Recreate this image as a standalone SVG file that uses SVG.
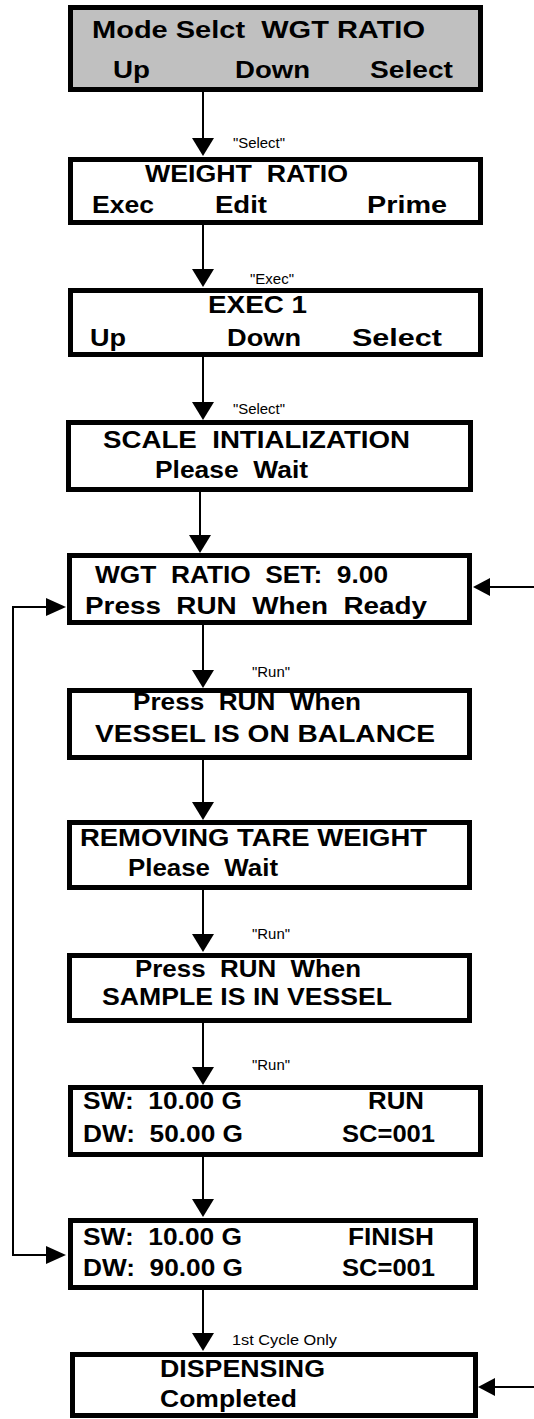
<svg xmlns="http://www.w3.org/2000/svg" width="534" height="1419" viewBox="0 0 534 1419">
<style>
.box{fill:#fff;stroke:#000;stroke-width:5}
.gray{fill:#c0c0c0}
.t{font-family:"Liberation Sans",Arial,sans-serif;font-weight:bold;font-size:24px;fill:#000}
.l{font-family:"Liberation Sans",Arial,sans-serif;font-size:14px;fill:#000}
.c{stroke:#000;stroke-width:2;fill:none}
.h{fill:#000}
</style>
<rect width="534" height="1419" fill="#fff"/>
<g id="connectors">
<line class="c" x1="203" y1="92" x2="203" y2="140"/><polygon class="h" points="192,138 214,138 203,156"/>
<line class="c" x1="203" y1="224" x2="203" y2="271"/><polygon class="h" points="192,269 214,269 203,287"/>
<line class="c" x1="203" y1="357" x2="203" y2="404"/><polygon class="h" points="192,402 214,402 203,420"/>
<line class="c" x1="200" y1="492" x2="200" y2="537"/><polygon class="h" points="189,535 211,535 200,553"/>
<line class="c" x1="203" y1="625" x2="203" y2="672"/><polygon class="h" points="192,670 214,670 203,688"/>
<line class="c" x1="203" y1="760" x2="203" y2="804"/><polygon class="h" points="192,802 214,802 203,820"/>
<line class="c" x1="203" y1="890" x2="203" y2="936"/><polygon class="h" points="192,934 214,934 203,952"/>
<line class="c" x1="203" y1="1023" x2="203" y2="1069"/><polygon class="h" points="192,1067 214,1067 203,1085"/>
<line class="c" x1="203" y1="1157" x2="203" y2="1201"/><polygon class="h" points="192,1199 214,1199 203,1217"/>
<line class="c" x1="203" y1="1290" x2="203" y2="1335"/><polygon class="h" points="192,1333 214,1333 203,1351"/>
<polyline class="c" points="47,607 13,607 13,1255 47,1255"/>
<polygon class="h" points="46,598 46,616 66,607"/>
<polygon class="h" points="46,1246 46,1264 66,1255"/>
<line class="c" x1="488" y1="587" x2="534" y2="587"/><polygon class="h" points="473,587 490,578 490,596"/>
<line class="c" x1="493" y1="1387" x2="534" y2="1387"/><polygon class="h" points="478,1387 495,1378 495,1396"/>
<text class="l" x="233" y="148" textLength="52" lengthAdjust="spacingAndGlyphs">"Select"</text>
<text class="l" x="250" y="284" textLength="44" lengthAdjust="spacingAndGlyphs">"Exec"</text>
<text class="l" x="233" y="414" textLength="52" lengthAdjust="spacingAndGlyphs">"Select"</text>
<text class="l" x="252" y="677" textLength="38" lengthAdjust="spacingAndGlyphs">"Run"</text>
<text class="l" x="252" y="939" textLength="38" lengthAdjust="spacingAndGlyphs">"Run"</text>
<text class="l" x="252" y="1070" textLength="38" lengthAdjust="spacingAndGlyphs">"Run"</text>
<text class="l" x="232" y="1345" textLength="105" lengthAdjust="spacingAndGlyphs">1st Cycle Only</text>
</g>
<g id="n1"><rect class="box gray" x="70.5" y="7.5" width="410" height="82"/>
<text class="t" x="92" y="38" textLength="333" lengthAdjust="spacingAndGlyphs" xml:space="preserve">Mode Selct  WGT RATIO</text>
<text class="t" x="113" y="78" textLength="37" lengthAdjust="spacingAndGlyphs">Up</text>
<text class="t" x="235" y="78" textLength="75" lengthAdjust="spacingAndGlyphs">Down</text>
<text class="t" x="370" y="78" textLength="83" lengthAdjust="spacingAndGlyphs">Select</text></g>
<g id="n2"><rect class="box" x="70.5" y="159.5" width="410" height="63"/>
<text class="t" x="145" y="182" textLength="203" lengthAdjust="spacingAndGlyphs" xml:space="preserve">WEIGHT  RATIO</text>
<text class="t" x="92" y="213" textLength="62" lengthAdjust="spacingAndGlyphs">Exec</text>
<text class="t" x="215" y="213" textLength="52" lengthAdjust="spacingAndGlyphs">Edit</text>
<text class="t" x="367" y="213" textLength="80" lengthAdjust="spacingAndGlyphs">Prime</text></g>
<g id="n3"><rect class="box" x="70.5" y="290.5" width="410" height="64"/>
<text class="t" x="208" y="313" textLength="99" lengthAdjust="spacingAndGlyphs">EXEC 1</text>
<text class="t" x="90" y="346" textLength="36" lengthAdjust="spacingAndGlyphs">Up</text>
<text class="t" x="227" y="346" textLength="74" lengthAdjust="spacingAndGlyphs">Down</text>
<text class="t" x="352" y="346" textLength="90" lengthAdjust="spacingAndGlyphs">Select</text></g>
<g id="n4"><rect class="box" x="68.5" y="422.5" width="402" height="67"/>
<text class="t" x="103" y="448" textLength="307" lengthAdjust="spacingAndGlyphs" xml:space="preserve">SCALE  INTIALIZATION</text>
<text class="t" x="155" y="478" textLength="153" lengthAdjust="spacingAndGlyphs" xml:space="preserve">Please  Wait</text></g>
<g id="n5"><rect class="box" x="69.5" y="555.5" width="400" height="67"/>
<text class="t" x="95" y="583" textLength="293" lengthAdjust="spacingAndGlyphs" xml:space="preserve">WGT  RATIO  SET:  9.00</text>
<text class="t" x="85" y="614" textLength="342" lengthAdjust="spacingAndGlyphs" xml:space="preserve">Press  RUN  When  Ready</text></g>
<g id="n6"><rect class="box" x="69.5" y="690.5" width="400" height="67"/>
<text class="t" x="133" y="710" textLength="228" lengthAdjust="spacingAndGlyphs" xml:space="preserve">Press  RUN  When</text>
<text class="t" x="95" y="742" textLength="340" lengthAdjust="spacingAndGlyphs">VESSEL IS ON BALANCE</text></g>
<g id="n7"><rect class="box" x="69.5" y="822.5" width="400" height="65"/>
<text class="t" x="80" y="846" textLength="347" lengthAdjust="spacingAndGlyphs">REMOVING TARE WEIGHT</text>
<text class="t" x="128" y="876" textLength="150" lengthAdjust="spacingAndGlyphs" xml:space="preserve">Please  Wait</text></g>
<g id="n8"><rect class="box" x="69.5" y="955.5" width="400" height="65"/>
<text class="t" x="135" y="977" textLength="226" lengthAdjust="spacingAndGlyphs" xml:space="preserve">Press  RUN  When</text>
<text class="t" x="102" y="1005" textLength="290" lengthAdjust="spacingAndGlyphs">SAMPLE IS IN VESSEL</text></g>
<g id="n9"><rect class="box" x="70.5" y="1087.5" width="410" height="67"/>
<text class="t" x="83" y="1109" textLength="159" lengthAdjust="spacingAndGlyphs" xml:space="preserve">SW:  10.00 G</text>
<text class="t" x="368" y="1109" textLength="56" lengthAdjust="spacingAndGlyphs">RUN</text>
<text class="t" x="83" y="1142" textLength="160" lengthAdjust="spacingAndGlyphs" xml:space="preserve">DW:  50.00 G</text>
<text class="t" x="342" y="1142" textLength="93" lengthAdjust="spacingAndGlyphs">SC=001</text></g>
<g id="n10"><rect class="box" x="70.5" y="1220.5" width="405" height="67"/>
<text class="t" x="83" y="1245" textLength="159" lengthAdjust="spacingAndGlyphs" xml:space="preserve">SW:  10.00 G</text>
<text class="t" x="348" y="1245" textLength="86" lengthAdjust="spacingAndGlyphs">FINISH</text>
<text class="t" x="83" y="1276" textLength="160" lengthAdjust="spacingAndGlyphs" xml:space="preserve">DW:  90.00 G</text>
<text class="t" x="342" y="1276" textLength="93" lengthAdjust="spacingAndGlyphs">SC=001</text></g>
<g id="n11"><rect class="box" x="72.5" y="1354.5" width="403" height="61"/>
<text class="t" x="160" y="1377" textLength="165" lengthAdjust="spacingAndGlyphs">DISPENSING</text>
<text class="t" x="160" y="1407" textLength="137" lengthAdjust="spacingAndGlyphs">Completed</text></g>
</svg>
